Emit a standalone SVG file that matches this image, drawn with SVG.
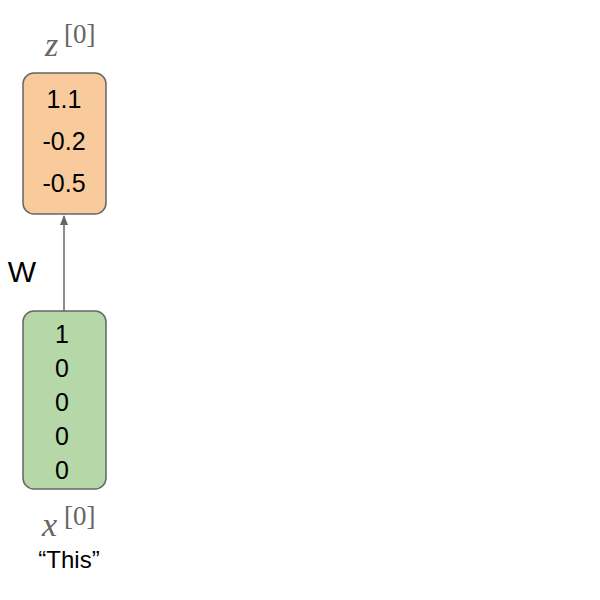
<svg xmlns="http://www.w3.org/2000/svg" width="600" height="600" viewBox="0 0 600 600">
<style>
.box{stroke:#666666;stroke-width:1.5}
.num{font-family:"Liberation Sans",Arial,sans-serif;font-size:25px;fill:#000;text-anchor:middle}
.math{font-family:"Liberation Serif","DejaVu Serif",serif;fill:#666666}
.lbl{font-family:"Liberation Sans",Arial,sans-serif;fill:#000}
</style>
<defs>
<marker id="ah" markerWidth="10" markerHeight="12" refX="9" refY="5" orient="auto" markerUnits="userSpaceOnUse">
<path d="M0,1 L10,5 L0,9 Z" fill="#666666"/>
</marker>
</defs>
<rect width="600" height="600" fill="#ffffff"/>
<g id="connectors">
<line x1="64" y1="311" x2="64" y2="216" stroke="#666666" stroke-width="1.5" marker-end="url(#ah)"/>
<text class="lbl" x="22" y="282" font-size="30" text-anchor="middle">W</text>
</g>
<g id="z0">
<rect class="box" x="23" y="73" width="83" height="141" rx="11" fill="#f9cb9c"/>
<text class="num" x="64" y="108">1.1</text>
<text class="num" x="64" y="150">-0.2</text>
<text class="num" x="64" y="192">-0.5</text>
<text class="math"><tspan x="45" y="56" font-style="italic" font-size="34">z</tspan><tspan x="64" y="43" font-size="27">[0]</tspan></text>
</g>
<g id="x0">
<rect class="box" x="23" y="311" width="83" height="178" rx="11" fill="#b6d7a8"/>
<text class="num" x="62" y="343" font-size="26">1</text>
<text class="num" x="62" y="377" font-size="26">0</text>
<text class="num" x="62" y="411" font-size="26">0</text>
<text class="num" x="62" y="445" font-size="26">0</text>
<text class="num" x="62" y="479" font-size="26">0</text>
<text class="math"><tspan x="42" y="536" font-style="italic" font-size="34">x</tspan><tspan x="64" y="525" font-size="27">[0]</tspan></text>
<text class="lbl" x="69" y="568" font-size="24" text-anchor="middle">“This”</text>
</g>
</svg>
